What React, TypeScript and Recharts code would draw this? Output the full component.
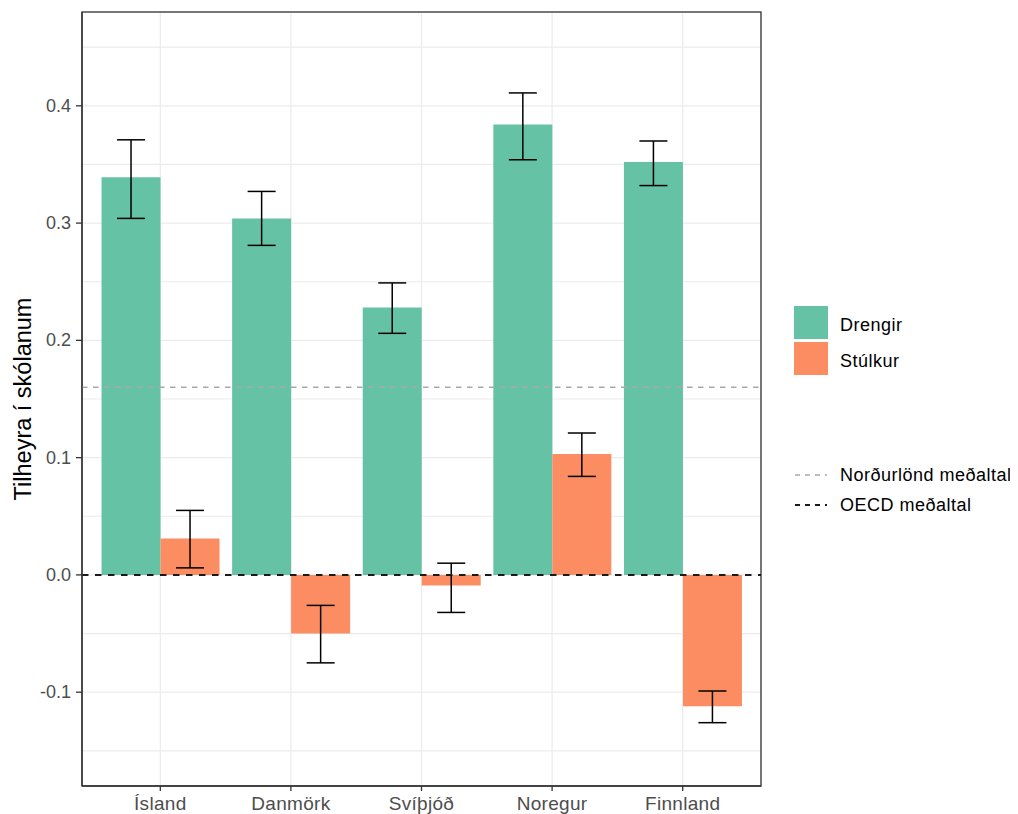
import * as Recharts from "recharts";
import { BarChart, Bar, XAxis, YAxis, CartesianGrid, ErrorBar, ReferenceLine } from "recharts";

const countries = ["Ísland", "Danmörk", "Svíþjóð", "Noregur", "Finnland"];
const drengir = [0.339, 0.304, 0.228, 0.384, 0.352];
const drengirLow = [0.304, 0.281, 0.206, 0.354, 0.332];
const drengirHigh = [0.371, 0.327, 0.249, 0.411, 0.370];
const stulkur = [0.031, -0.050, -0.009, 0.103, -0.112];
const stulkurLow = [0.006, -0.075, -0.032, 0.084, -0.126];
const stulkurHigh = [0.055, -0.026, 0.010, 0.121, -0.099];

const seriesNames = ["Drengir", "Stúlkur"];
const seriesColors = ["#66C2A5", "#FC8D62"];

const majorTicks = [-0.1, 0, 0.1, 0.2, 0.3, 0.4];
const minorTicks = [-0.15, -0.05, 0.05, 0.15, 0.25, 0.35, 0.45];
const allTicks = [...majorTicks, ...minorTicks].sort((a, b) => a - b);

const nordicAvg = 0.16;
const oecdAvg = 0;
const refNames = ["Norðurlönd meðaltal", "OECD meðaltal"];
const refColors = ["#A8A8A8", "#1A1A1A"];

const yTitle = "Tilheyra í skólanum";
const FONT = "'Liberation Sans', Arial, sans-serif";

const data = countries.map((c, i) => ({
  country: c,
  drengir: drengir[i],
  drengirErr: [drengir[i] - drengirLow[i], drengirHigh[i] - drengir[i]],
  stulkur: stulkur[i],
  stulkurErr: [stulkur[i] - stulkurLow[i], stulkurHigh[i] - stulkur[i]],
}));

// only major ticks get a label and a tick mark; minor ones just feed the grid
const YTick = (props: any) => {
  const { x, y, payload } = props;
  if (!majorTicks.includes(payload.value)) return <g />;
  return (
    <g>
      <line x1={x + 5} x2={x + 11} y1={y} y2={y} stroke="#333333" strokeWidth={1.3} />
      <text x={x} y={y} textAnchor="end" dominantBaseline="central" fill="#4D4D4D" fontSize={18} fontFamily={FONT}>
        {payload.value.toFixed(1)}
      </text>
    </g>
  );
};

const YTitle = (props: any) => {
  const { viewBox } = props;
  const cx = viewBox.x + 15;
  const cy = viewBox.y + viewBox.height / 2;
  return (
    <text x={cx} y={cy} transform={`rotate(-90, ${cx}, ${cy})`} textAnchor="middle" dominantBaseline="central" fill="#000" fontSize={23.5} fontFamily={FONT}>
      {yTitle}
    </text>
  );
};

// panel border (theme_bw style)
const R: any = Recharts;
const usePlot = R.usePlotArea ?? (() => undefined);
const PanelBorder = () => {
  const area = usePlot();
  if (!area) return null;
  return <rect x={area.x} y={area.y} width={area.width} height={area.height} fill="none" stroke="#333333" strokeWidth={1.3} />;
};

const App = () => {
  return (
    <div style={{ position: "relative", width: 1010, height: 806, overflow: "hidden", fontFamily: FONT }}>
      <BarChart
        width={1010}
        height={830}
        data={data}
        margin={{ top: 4, right: 257, bottom: 12, left: 0 }}
        barCategoryGap="5%"
        barGap={0}
      >
        <CartesianGrid stroke="#EBEBEB" strokeWidth={1.2} />
        <XAxis
          dataKey="country"
          height={40}
          padding={{ left: 13, right: 13 }}
          tickSize={5}
          tickMargin={6}
          axisLine={{ stroke: "#333333", strokeWidth: 1.3 }}
          tickLine={{ stroke: "#333333", strokeWidth: 1.3 }}
          tick={{ fill: "#4D4D4D", fontSize: 19, fontFamily: FONT, letterSpacing: 0.3 }}
        />
        <YAxis
          width={74}
          domain={[-0.18, 0.48]}
          allowDataOverflow
          ticks={allTicks}
          interval={0}
          tickSize={6}
          tickMargin={5}
          tickLine={false}
          axisLine={{ stroke: "#333333", strokeWidth: 1.3 }}
          tick={<YTick />}
          label={YTitle}
        />
        <Bar dataKey="drengir" name={seriesNames[0]} fill={seriesColors[0]} isAnimationActive={false}>
          <ErrorBar dataKey="drengirErr" width={14} stroke="#000" strokeWidth={1.5} direction="y" />
        </Bar>
        <Bar dataKey="stulkur" name={seriesNames[1]} fill={seriesColors[1]} isAnimationActive={false}>
          <ErrorBar dataKey="stulkurErr" width={14} stroke="#000" strokeWidth={1.5} direction="y" />
        </Bar>
        <ReferenceLine y={nordicAvg} stroke={refColors[0]} strokeWidth={1.3} strokeDasharray="5.5 5.5" />
        <ReferenceLine y={oecdAvg} stroke={refColors[1]} strokeWidth={2} strokeDasharray="6.5 6.5" />
        <PanelBorder />
      </BarChart>

      {/* legend */}
      <div style={{ position: "absolute", left: 786, top: 298, fontSize: 18, letterSpacing: 0.5, color: "#000", whiteSpace: "nowrap" }}>
        {seriesNames.map((n, i) => (
          <div key={n} style={{ display: "flex", alignItems: "center", height: 33, marginBottom: 3 }}>
            <div style={{ width: 34, height: 33, background: seriesColors[i] }} />
            <span style={{ marginLeft: 12, position: "relative", top: 3 }}>{n}</span>
          </div>
        ))}
      </div>
      <div style={{ position: "absolute", left: 786, top: 452, fontSize: 18, letterSpacing: 0.5, color: "#000", whiteSpace: "nowrap" }}>
        {refNames.map((n, i) => (
          <div key={n} style={{ display: "flex", alignItems: "center", height: 30 }}>
            <svg width={34} height={30}>
              <line x1={1} x2={33} y1={15} y2={15} stroke={refColors[i]} strokeWidth={i === 0 ? 1.3 : 2} strokeDasharray="5 5" />
            </svg>
            <span style={{ marginLeft: 12 }}>{n}</span>
          </div>
        ))}
      </div>
    </div>
  );
};

export default App;
